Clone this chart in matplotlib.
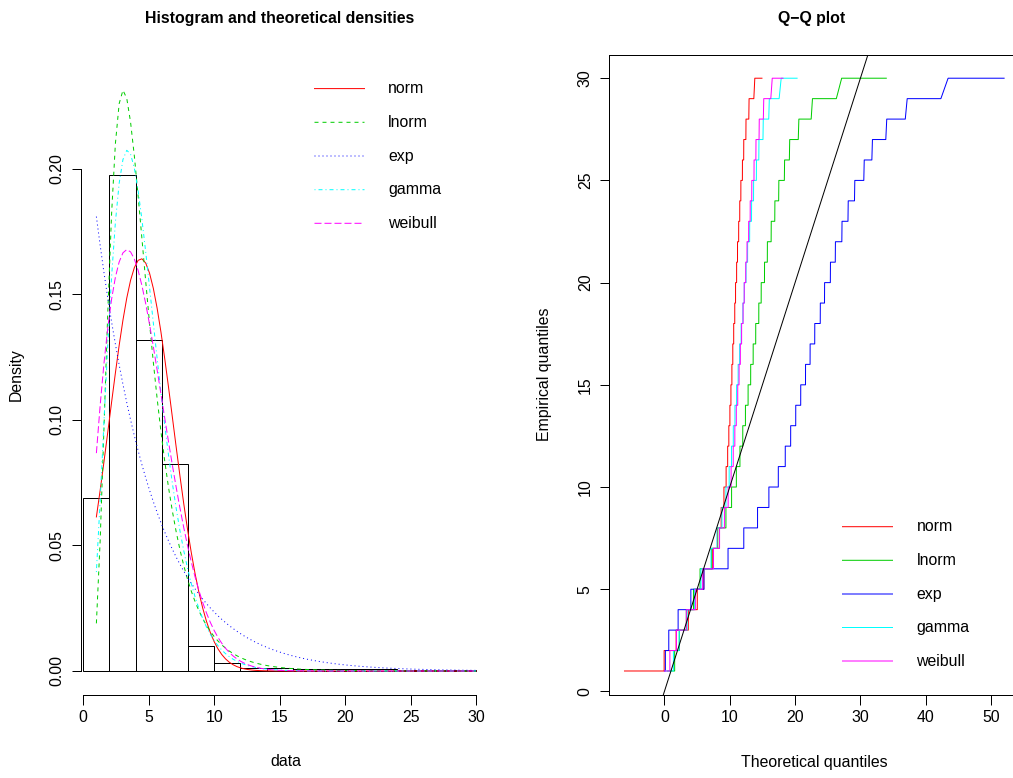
import math
import numpy as np
import matplotlib
matplotlib.use("Agg")
import matplotlib.pyplot as plt
from matplotlib.lines import Line2D

W, H, DPI = 1013, 778, 100

# ---------------------------------------------------------------- data
# Histogram of the sample (density scale, bins of width 2)
bin_edges = [0, 2, 4, 6, 8, 10, 12, 14, 16, 18, 20, 22, 24, 26, 28, 30]
bin_density = [0.0688, 0.1974, 0.1317, 0.0824, 0.0098, 0.0032, 0.0013,
               0.0010, 0.0008, 0.0007, 0.0006, 0.0006, 0.0005, 0.0004, 0.0003]

# Observed integer values and their frequencies
values = list(range(1, 31))
counts = [2238, 7181, 15898, 14830, 9753, 9579, 3086, 1610, 855, 494,
          274, 172, 134, 111, 90, 73, 63, 63, 41, 47,
          33, 36, 27, 23, 25, 16, 19, 15, 11, 4]

# Fitted distributions and their parameters
dist_names = ["norm", "lnorm", "exp", "gamma", "weibull"]
norm_par = (4.41, 2.43)        # mean, sd
lnorm_par = (1.365, 0.499)     # meanlog, sdlog
exp_par = (0.227,)             # rate
gamma_par = (4.24, 0.96)       # shape, rate
weibull_par = (1.9, 4.95)      # shape, scale

dist_colors = ["#FF0000", "#00CD00", "#0000FF", "#00FFFF", "#FF00FF"]

# axis ticks
hist_xticks = [0, 5, 10, 15, 20, 25, 30]
hist_yticks = [0.00, 0.05, 0.10, 0.15, 0.20]
qq_xticks = [0, 10, 20, 30, 40, 50]
qq_yticks = [0, 5, 10, 15, 20, 25, 30]
hist_ymax = 0.236

# ---------------------------------------------------------------- densities
SQ2PI = math.sqrt(2 * math.pi)


def dnorm(x, m, s):
    x = np.asarray(x, float)
    return np.exp(-0.5 * ((x - m) / s) ** 2) / (s * SQ2PI)


def dlnorm(x, ml, sl):
    x = np.asarray(x, float)
    out = np.zeros_like(x)
    pos = x > 0
    lx = np.log(x[pos])
    out[pos] = np.exp(-0.5 * ((lx - ml) / sl) ** 2) / (x[pos] * sl * SQ2PI)
    return out


def dexp(x, r):
    x = np.asarray(x, float)
    out = np.zeros_like(x)
    pos = x >= 0
    out[pos] = r * np.exp(-r * x[pos])
    return out


def dgamma(x, a, b):
    x = np.asarray(x, float)
    out = np.zeros_like(x)
    pos = x > 0
    out[pos] = np.exp(a * math.log(b) + (a - 1) * np.log(x[pos])
                      - b * x[pos] - math.lgamma(a))
    return out


def dweibull(x, k, lam):
    x = np.asarray(x, float)
    out = np.zeros_like(x)
    pos = x > 0
    z = x[pos] / lam
    out[pos] = (k / lam) * z ** (k - 1) * np.exp(-z ** k)
    return out


def make_quantile(pdf, lo, hi, m=400001):
    """Quantile function obtained by numerically inverting the CDF."""
    x = np.linspace(lo, hi, m)
    f = pdf(x)
    seg = 0.5 * (f[1:] + f[:-1]) * np.diff(x)
    cdf = np.concatenate([[0.0], np.cumsum(seg)])
    sf = np.concatenate([np.cumsum(seg[::-1])[::-1], [0.0]])
    tot = cdf[-1]
    cdf, sf = cdf / tot, sf / tot
    mc, ms = cdf > 0, sf > 0

    def q(p):
        p = np.asarray(p, float)
        out = np.empty_like(p)
        low = p <= 0.5
        out[low] = np.interp(np.log(p[low]), np.log(cdf[mc]), x[mc])
        out[~low] = np.interp(-np.log1p(-p[~low]), -np.log(sf[ms]), x[ms])
        return out
    return q


pdfs = [
    lambda x: dnorm(x, *norm_par),
    lambda x: dlnorm(x, *lnorm_par),
    lambda x: dexp(x, *exp_par),
    lambda x: dgamma(x, *gamma_par),
    lambda x: dweibull(x, *weibull_par),
]
supports = [(-15, 25), (0, 150), (0, 120), (0, 80), (0, 40)]
quantiles = [make_quantile(f, lo, hi) for f, (lo, hi) in zip(pdfs, supports)]

# ---------------------------------------------------------------- style
plt.rcParams["font.family"] = ["Liberation Sans", "DejaVu Sans"]
plt.rcParams["lines.scale_dashes"] = False
FS = 11.4
PX = 72.0 / DPI  # points per pixel
LW = 1.0 * PX    # one-pixel lines

line_styles = [
    "-",
    (0, (4 * PX, 4 * PX)),
    (0, (1 * PX, 3 * PX)),
    (0, (1 * PX, 3 * PX, 4 * PX, 3 * PX)),
    (0, (7 * PX, 3 * PX)),
]

fig = plt.figure(figsize=(W / DPI, H / DPI), dpi=DPI)
fig.patch.set_facecolor("white")


def fx(px):
    return px / W


def fy(py):
    return 1 - py / H


plot_top, plot_bot = 54.5, 694.7
plot_w = 410.0
left1, left2 = 81.2, 609.3

ax1 = fig.add_axes([fx(left1), fy(plot_bot), plot_w / W, (plot_bot - plot_top) / H])
ax2 = fig.add_axes([fx(left2), fy(plot_bot), plot_w / W, (plot_bot - plot_top) / H])

# ---------------------------------------------------------------- histogram panel
xmin, xmax = min(values), max(values)
ax1.bar(bin_edges[:-1], bin_density, width=np.diff(bin_edges), align="edge",
        fill=False, edgecolor="black", linewidth=LW)

xs = np.linspace(xmin, xmax, 101)
for f, col, ls in zip(pdfs, dist_colors, line_styles):
    ax1.plot(xs, f(xs), color=col, linestyle=ls, linewidth=LW)

pad = 0.04 * (xmax - xmin)
ax1.set_xlim(xmin - pad, xmax + pad)
ax1.set_ylim(-0.04 * hist_ymax, 1.04 * hist_ymax)
ax1.spines["top"].set_visible(False)
ax1.spines["right"].set_visible(False)
ax1.spines["left"].set_bounds(hist_yticks[0], hist_yticks[-1])
ax1.spines["bottom"].set_bounds(hist_xticks[0], hist_xticks[-1])
ax1.set_xticks(hist_xticks)
ax1.set_xticklabels([str(t) for t in hist_xticks])
ax1.set_yticks(hist_yticks)
ax1.set_yticklabels(["%.2f" % t for t in hist_yticks], rotation=90, va="center")

# ---------------------------------------------------------------- Q-Q panel
n = sum(counts)
cum = np.cumsum(counts)
first = cum - np.array(counts) + 1
idx = np.column_stack([first, cum]).ravel()
yq = np.repeat(values, 2)
probs = (idx - 0.5) / n

all_x = []
for q, col in zip(quantiles, dist_colors):
    xq = q(probs)
    all_x.append(xq)
    ax2.plot(xq, yq, color=col, linewidth=LW)
ax2.axline((0, 0), slope=1, color="black", linewidth=LW)

qmin = min(a.min() for a in all_x)
qmax = max(a.max() for a in all_x)
qpad = 0.04 * (qmax - qmin)
ax2.set_xlim(qmin - qpad, qmax + qpad)
ypad = 0.04 * (max(values) - min(values))
ax2.set_ylim(min(values) - ypad, max(values) + ypad)
ax2.set_xticks(qq_xticks)
ax2.set_xticklabels([str(t) for t in qq_xticks])
ax2.set_yticks(qq_yticks)
ax2.set_yticklabels([str(t) for t in qq_yticks], rotation=90, va="center")

for ax in (ax1, ax2):
    for sp in ax.spines.values():
        sp.set_linewidth(LW)
    ax.tick_params(direction="out", length=9.5 * PX, width=LW, labelsize=FS)
    ax.tick_params(axis="x", pad=4.5)
    ax.tick_params(axis="y", pad=5)
    ax.set_facecolor("none")

# ---------------------------------------------------------------- titles and labels
c1 = left1 + plot_w / 2
c2 = left2 + plot_w / 2
fig.text(fx(c1 - 7), fy(18), "Histogram and theoretical densities",
         ha="center", va="center", fontsize=FS, fontweight="bold")
fig.text(fx(c2 - 3), fy(18), "Q\u2212Q plot",
         ha="center", va="center", fontsize=FS, fontweight="bold")
fig.text(fx(c1), fy(762), "data", ha="center", va="center", fontsize=FS)
fig.text(fx(c2), fy(762), "Theoretical quantiles", ha="center", va="center", fontsize=FS)
ymid = (plot_top + plot_bot) / 2
fig.text(fx(16), fy(ymid), "Density", ha="center", va="center",
         rotation=90, fontsize=FS)
fig.text(fx(544), fy(ymid), "Empirical quantiles", ha="center", va="center",
         rotation=90, fontsize=FS)

# ---------------------------------------------------------------- legends
def draw_legend(x0, x1, xt, ys, styles):
    for name, col, ls, y in zip(dist_names, dist_colors, styles, ys):
        fig.add_artist(Line2D([fx(x0), fx(x1)], [fy(y), fy(y)], color=col,
                              linestyle=ls, linewidth=LW, snap=False))
        fig.text(fx(xt), fy(y), name, ha="left", va="center", fontsize=FS)


draw_legend(314.5, 364.5, 388.3, [88.6, 122.3, 156.0, 189.7, 223.3], line_styles)
draw_legend(842.5, 892.5, 916.5, [526.7, 560.3, 594.0, 627.5, 661.0], ["-"] * 5)

fig.savefig("out.png", dpi=DPI, facecolor="white")
